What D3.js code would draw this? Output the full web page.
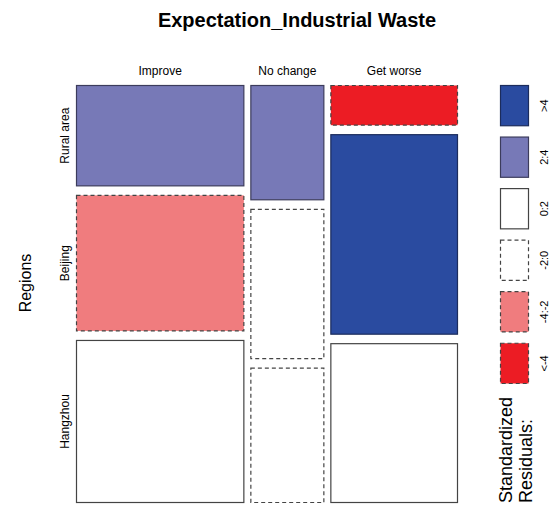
<!DOCTYPE html>
<html>
<head>
<meta charset="utf-8">
<script src="https://cdnjs.cloudflare.com/ajax/libs/d3/7.8.5/d3.min.js"></script>
<style>
  html, body { margin: 0; padding: 0; background: #fff; }
  svg { display: block; font-family: "Liberation Sans", Arial, sans-serif; }
</style>
</head>
<body>
<svg id="chart" width="550" height="506"></svg>
<script>
// Contingency table: expectation about industrial waste by region
const expectations = ["Improve", "No change", "Get worse"];
const regions = ["Rural area", "Beijing", "Hangzhou"];
// counts per expectation, listed by region
const improveCounts = [276, 372, 444];
const noChangeCounts = [138, 180, 162];
const getWorseCounts = [84, 414, 330];
const counts = [improveCounts, noChangeCounts, getWorseCounts];

// Residual shading classes
const legendLabels = [">4", "2:4", "0:2", "-2:0", "-4:-2", "<-4"];
const legendFills = ["#2A4BA0", "#7779B7", "#FFFFFF", "#FFFFFF", "#F07C7E", "#EC1C24"];
const legendStrokes = ["#1C2C5C", "#3C3C5C", "#444444", "#444444", "#444444", "#444444"];
const legendDashed = [false, false, false, true, true, true];

function shadeClass(r) {
  if (r > 4) return 0;
  if (r > 2) return 1;
  if (r >= 0) return 2;
  if (r > -2) return 3;
  if (r > -4) return 4;
  return 5;
}

const svg = d3.select("#chart");

// Totals and Pearson residuals
const colTotals = counts.map(c => d3.sum(c));
const rowTotals = regions.map((_, j) => d3.sum(counts, c => c[j]));
const N = d3.sum(colTotals);

// Tile area bounds
const plotLeft = 76, plotRight = 458, plotTop = 85, plotBottom = 503;
const colGap = 6, rowGap = 8.5;
const usableW = plotRight - plotLeft - colGap * (expectations.length - 1);
const usableH = plotBottom - plotTop - rowGap * (regions.length - 1);
const xScale = d3.scaleLinear().domain([0, N]).range([0, usableW]);

const cells = [];
let cumCol = 0;
expectations.forEach((e, i) => {
  const x0 = plotLeft + xScale(cumCol) + i * colGap;
  const w = xScale(colTotals[i]);
  const yScale = d3.scaleLinear().domain([0, colTotals[i]]).range([0, usableH]);
  let cumRow = 0;
  regions.forEach((r, j) => {
    const y0 = plotTop + yScale(cumRow) + j * rowGap;
    const h = yScale(counts[i][j]);
    const expected = colTotals[i] * rowTotals[j] / N;
    const resid = (counts[i][j] - expected) / Math.sqrt(expected);
    cells.push({ i, j, x: x0, y: y0, w, h, cls: shadeClass(resid) });
    cumRow += counts[i][j];
  });
  cumCol += colTotals[i];
  // column label
  svg.append("text")
    .attr("x", x0 + w / 2).attr("y", 75)
    .attr("text-anchor", "middle")
    .attr("font-size", 12)
    .text(e);
});

svg.selectAll("rect.cell").data(cells).enter().append("rect")
  .attr("class", "cell")
  .attr("x", d => d.x + 0.5).attr("y", d => d.y + 0.5)
  .attr("width", d => d.w - 1).attr("height", d => d.h - 1)
  .attr("fill", d => legendFills[d.cls])
  .attr("stroke", d => legendStrokes[d.cls])
  .attr("stroke-width", 1.2)
  .attr("stroke-dasharray", d => legendDashed[d.cls] ? "4,3" : null);

// Row labels, centered on the first column's tiles
cells.filter(d => d.i === 0).forEach(d => {
  const cy = d.y + d.h / 2;
  svg.append("text")
    .attr("transform", `translate(69,${cy}) rotate(-90)`)
    .attr("text-anchor", "middle")
    .attr("font-size", 12)
    .text(regions[d.j]);
});

// Title
svg.append("text")
  .attr("x", 297).attr("y", 27)
  .attr("text-anchor", "middle")
  .attr("font-size", 20).attr("font-weight", "bold")
  .text("Expectation_Industrial Waste");

// Variable name
svg.append("text")
  .attr("transform", "translate(31,283) rotate(-90)")
  .attr("text-anchor", "middle")
  .attr("font-size", 16)
  .text("Regions");

// Legend
const legendY = d3.scaleBand().domain(legendLabels).range([85, 384]).paddingInner(0.2);
legendLabels.forEach((lab, k) => {
  const y = legendY(lab);
  const bh = legendY.bandwidth();
  svg.append("rect")
    .attr("x", 500.5).attr("y", y + 0.5)
    .attr("width", 28).attr("height", bh - 1)
    .attr("fill", legendFills[k])
    .attr("stroke", legendStrokes[k])
    .attr("stroke-width", 1.2)
    .attr("stroke-dasharray", legendDashed[k] ? "4,3" : null);
  svg.append("text")
    .attr("transform", `translate(548,${y + bh / 2}) rotate(-90)`)
    .attr("text-anchor", "middle")
    .attr("font-size", 11)
    .text(lab);
});

svg.append("text")
  .attr("transform", "translate(512,503) rotate(-90)")
  .attr("font-size", 18)
  .text("Standardized");
svg.append("text")
  .attr("transform", "translate(532,503) rotate(-90)")
  .attr("font-size", 18)
  .text("Residuals:");
</script>
</body>
</html>
